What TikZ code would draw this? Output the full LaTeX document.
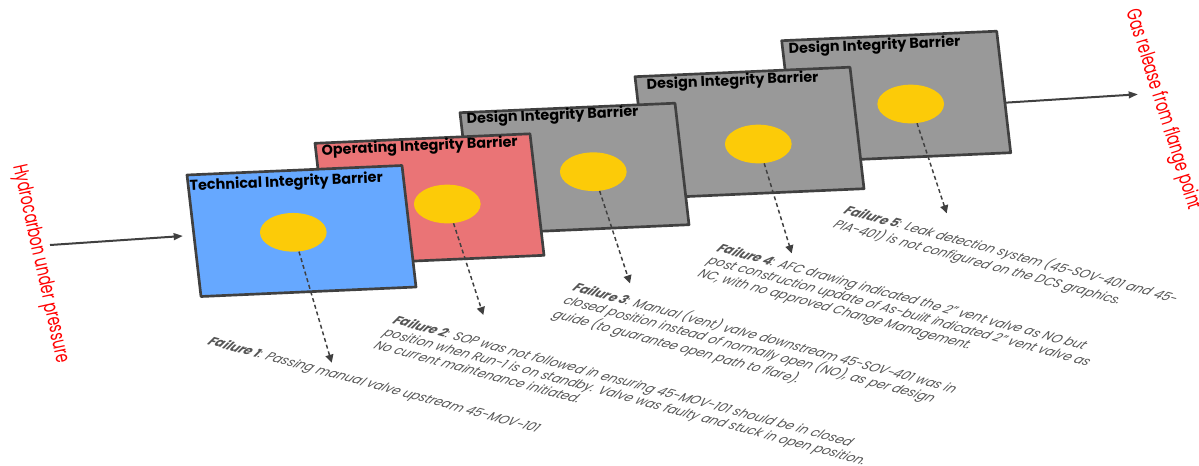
\documentclass[tikz,border=0pt]{standalone}
\usepackage{fontspec}
\setmainfont{Poppins}
\newfontfamily\flowfont{Poppins}[FakeStretch=0.68]
\usetikzlibrary{shapes.geometric,arrows.meta}

\definecolor{techblue}{RGB}{102,168,255}
\definecolor{operred}{RGB}{234,116,118}
\definecolor{designgrey}{RGB}{153,153,153}
\definecolor{holeyellow}{RGB}{252,203,8}
\definecolor{edgegrey}{RGB}{64,64,64}
\definecolor{notegrey}{RGB}{85,85,85}

\begin{document}
\begin{tikzpicture}[x=0.75pt,y=0.75pt,yscale=-1,xscale=1,
	barrier/.style={draw=edgegrey,line width=2pt,line join=round},
	hole/.style={ellipse,fill=holeyellow,minimum width=50pt,minimum height=29pt,inner sep=0pt},
	bartitle/.style={anchor=north west,inner sep=0.75pt,rotate=2.5,font=\bfseries\fontsize{10.8}{12}\selectfont},
	failnote/.style={anchor=north west,inner sep=0.75pt,rotate=-15.1,xslant=0.4,align=left,text=notegrey,font=\itshape\fontsize{9.4}{11}\selectfont},
	failarrow/.style={draw=edgegrey,line width=1.1pt,dash pattern={on 3pt off 2.2pt},-{Triangle[length=6pt,width=6pt]}},
	flowarrow/.style={draw=edgegrey,line width=1.5pt,-{Triangle[length=7pt,width=5pt]}},
	flowlabel/.style={text=red,inner sep=0.75pt,font=\flowfont\fontsize{15.5}{16}\selectfont}
	]
	\clip (0,0) rectangle (1199,465);

	%Shape: Barrier 5
	\draw [barrier,fill=designgrey] (781.7,40.7) -- ++(215,-9.5) -- ++(14,121.5) -- ++(-215,9.5) -- cycle ;
	\node (hole5) [hole] at (910.7,104) {};
	% Text Node
	\draw (787,41) node (title5) [bartitle] {Design Integrity Barrier};

	%Shape: Barrier 4
	\draw [barrier,fill=designgrey] (635,76.7) -- ++(215,-9.5) -- ++(14,121.5) -- ++(-215,9.5) -- cycle ;
	\node (hole4) [hole] at (758.3,144) {};
	% Text Node
	\draw (645,76.5) node (title4) [bartitle] {Design Integrity Barrier};

	%Shape: Barrier 3
	\draw [barrier,fill=designgrey] (460,112.7) -- ++(215,-9.5) -- ++(14,121.5) -- ++(-215,9.5) -- cycle ;
	\node (hole3) [hole] at (593.3,171.7) {};
	% Text Node
	\draw (465,111) node (title3) [bartitle] {Design Integrity Barrier};

	%Shape: Barrier 2
	\draw [barrier,fill=operred] (315,143.3) -- ++(215,-9.5) -- ++(14,121.5) -- ++(-215,9.5) -- cycle ;
	\node (hole2) [hole] at (447.3,204) {};
	% Text Node
	\draw (320,142.5) node (title2) [bartitle] {Operating Integrity Barrier};

	%Shape: Barrier 1
	\draw [barrier,fill=techblue] (187,175) -- ++(215,-9.5) -- ++(14,121.5) -- ++(-215,9.5) -- cycle ;
	\node (hole1) [hole] at (293.3,232.3) {};
	% Text Node
	\draw (188,178) node (title1) [bartitle] {Technical Integrity Barrier};

	%Flow in and out
	\coordinate (hcStart) at (50,245);
	\coordinate (hcEnd) at (183,236);
	\coordinate (gasStart) at (1005,102.7);
	\coordinate (gasEnd) at (1138,94.3);
	\draw [flowarrow] (hcStart) -- (hcEnd);
	\draw [flowarrow] (gasStart) -- (gasEnd);

	% Text Node
	\draw (18,164) node (hcLabel) [flowlabel,anchor=west,rotate=-77.5] {Hydrocarbon under pressure};
	% Text Node
	\draw (1131,9) node (gasLabel) [flowlabel,anchor=west,rotate=-72.5] {Gas release from flange point};

	%Failure pointers
	\coordinate (tip1) at (331.7,362.7);
	\coordinate (tip2) at (483.3,315);
	\coordinate (tip3) at (630,283.3);
	\coordinate (tip4) at (791.7,253.3);
	\coordinate (tip5) at (946.7,213.3);
	\draw [failarrow] (hole1) -- (tip1);
	\draw [failarrow] (hole2) -- (tip2);
	\draw [failarrow] (hole3) -- (tip3);
	\draw [failarrow] (hole4) -- (tip4);
	\draw [failarrow] (hole5) -- (tip5);

	% Text Node
	\draw (213,334) node (fail1) [failnote] {{\bfseries Failure 1}: Passing manual valve upstream 45-MOV-101};
	% Text Node
	\draw (398,313) node (fail2) [failnote] {{\bfseries Failure 2}: SOP was not followed in ensuring 45-MOV-101 should be in closed\\position when Run-1 is on standby. Valve was faulty and stuck in open position.\\No current maintenance initiated.};
	% Text Node
	\draw (579,279) node (fail3) [failnote] {{\bfseries Failure 3}: Manual (vent) valve downstream 45-SOV-401 was in\\closed position instead of normally open (NO), as per design\\guide (to guarantee open path to flare).};
	% Text Node
	\draw (722,241) node (fail4) [failnote] {{\bfseries Failure 4}: AFC drawing indicated the 2” vent valve as NO but\\post construction update of As-built indicated 2” vent valve as\\NC, with no approved Change Management.};
	% Text Node
	\draw (850,202) node (fail5) [failnote] {{\bfseries Failure 5}: Leak detection system (45-SOV-401 and 45-\\PIA-401) is not configured on the DCS graphics.};

\end{tikzpicture}
\end{document}
